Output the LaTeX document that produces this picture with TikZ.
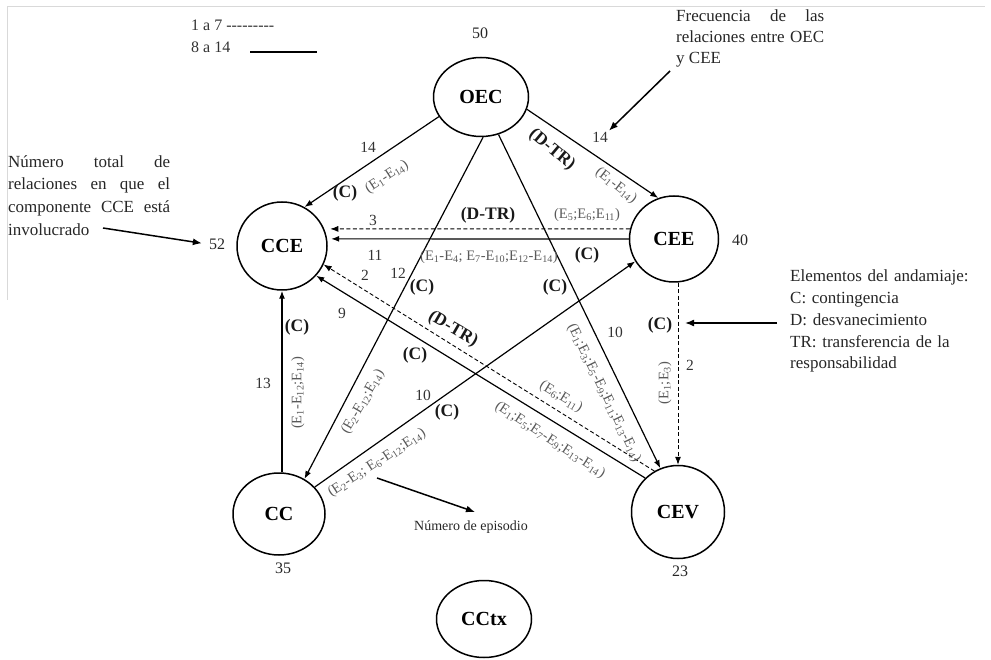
\documentclass[tikz,border=0pt]{standalone}
\usepackage{fontspec}
\setmainfont{Liberation Serif}
\usetikzlibrary{shapes.geometric,arrows.meta}
\begin{document}
\begin{tikzpicture}[x=1pt,y=-1pt,
  comp/.style={ellipse,draw,line width=1.5pt,inner sep=0pt,font=\fontsize{20}{24}\selectfont\bfseries},
  tot/.style={font=\fontsize{16}{19}\selectfont,text=black!85,inner sep=2pt},
  num/.style={font=\fontsize{15.5}{18}\selectfont,text=black!80,inner sep=1pt},
  legtext/.style={font=\fontsize{16}{19}\selectfont,text=black!80,inner sep=1pt},
  elem/.style={font=\fontsize{17.5}{20}\selectfont\bfseries,text=black!90,inner sep=1pt},
  eset/.style={font=\fontsize{14.5}{17}\selectfont,text=black!65,inner sep=1pt},
  note/.style={font=\fontsize{17}{22}\selectfont,text=black!85,inner sep=0pt},
  rel/.style={line width=1.2pt,-{Latex[length=8pt,width=6pt]}},
  weak/.style={rel,line width=0.9pt,dash pattern=on 4pt off 2.5pt},
  pointer/.style={line width=1.5pt,-{Latex[length=9pt,width=7pt]}}
]
\useasboundingbox (0,0) rectangle (991,660);
\draw[black!15,line width=1pt] (7,300) -- (7,7) -- (985,7);

% legend
\node[legtext,anchor=west] (leg1) at (190,25) {1 a 7 -{}-{}-{}-{}-{}-{}-{}-{}-};
\node[legtext,anchor=west] (leg2) at (190,47) {8 a 14};
\coordinate (s1) at (250,52);
\coordinate (s2) at (317,52);
\draw[line width=1.5pt] (s1) -- (s2);

% components
\node[comp,minimum width=95pt,minimum height=79pt] (OEC) at (481,97) {OEC};
\node[comp,minimum width=90pt,minimum height=88pt] (CCE) at (282,246) {CCE};
\node[comp,minimum width=89pt,minimum height=86pt] (CEE) at (674,239) {CEE};
\node[comp,minimum width=92pt,minimum height=82pt] (CC) at (279,514) {CC};
\node[comp,minimum width=93pt,minimum height=93pt] (CEV) at (678,512) {CEV};
\node[comp,minimum width=95pt,minimum height=77pt] (CCtx) at (484,619) {CCtx};

% totals
\node[tot] (t50) at (480,33) {50};
\node[tot] (t52) at (217,244) {52};
\node[tot] (t40) at (740,240) {40};
\node[tot] (t35) at (283,568) {35};
\node[tot] (t23) at (680,571) {23};

% relations
\draw[rel] (OEC.205) -- (CCE.60);
\draw[rel] (OEC.-15) -- (CEE.111);
\draw[weak,shorten >=6pt] (CEE.167) -- (CCE.22);
\draw[rel,shorten >=4pt] (CEE.180) -- (CCE.9);
\draw[rel] (OEC.273) -- (CC.54);
\draw[rel] (OEC.-65) -- (CEV.112);
\draw[weak] (CEV.north |- CEE.south) -- (CEV.north);
\draw[rel] (CCE.south |- CC.north) -- (CCE.south);
\draw[rel] (CC.37) -- (CEE.210);
\draw[rel] (CEV.134) -- (CCE.-41);
\draw[weak] (CEV.120) -- (CCE.-24);

% labels OEC -> CCE
\node[num] (n1) at (368,147) {14};
\node[elem] (c1) at (345,193) {(C)};
\node[eset,rotate=33] (e1) at (387,177) {(E\textsubscript{1}-E\textsubscript{14})};
% OEC -> CEE
\node[elem,rotate=-40] (c2) at (552,150) {(D-TR)};
\node[num] (n2) at (600,137) {14};
\node[eset,rotate=-38] (e2) at (616,186) {(E\textsubscript{1}-E\textsubscript{14})};
% CEE -> CCE dashed
\node[num] (n3) at (373,220) {3};
\node[elem] (c3) at (488,215) {(D-TR)};
\node[eset] (e3) at (587,215) {(E\textsubscript{5};E\textsubscript{6};E\textsubscript{11})};
% CEE -> CCE solid
\node[num] (n4) at (375,255) {11};
\node[eset] (e4) at (489,257) {(E\textsubscript{1}-E\textsubscript{4}; E\textsubscript{7}-E\textsubscript{10};E\textsubscript{12}-E\textsubscript{14})};
\node[elem] (c4) at (587,255) {(C)};
% OEC -> CC
\node[num] (n5) at (398,273) {12};
\node[elem] (c5) at (422,287) {(C)};
\node[eset,rotate=60] (e5) at (363,402) {(E\textsubscript{2}-E\textsubscript{12};E\textsubscript{14})};
% OEC -> CEV
\node[elem] (c6) at (555,287) {(C)};
\node[num] (n6) at (615,332) {10};
\node[eset,rotate=-64] (e6) at (604,393) {(E\textsubscript{1};E\textsubscript{3};E\textsubscript{5}-E\textsubscript{9};E\textsubscript{11};E\textsubscript{13}-E\textsubscript{14})};
% CEE -> CEV
\node[elem] (c7) at (660,325) {(C)};
\node[eset,rotate=90] (e7) at (665,383) {(E\textsubscript{1};E\textsubscript{3})};
\node[num] (n7) at (690,365) {2};
% CC -> CCE
\node[elem] (c8) at (297,327) {(C)};
\node[eset,rotate=90] (e8) at (298,393) {(E\textsubscript{1}-E\textsubscript{12};E\textsubscript{14})};
\node[num] (n8) at (263,383) {13};
% CC -> CEE
\node[num] (n9) at (423,395) {10};
\node[elem] (c9) at (447,412) {(C)};
\node[eset,rotate=33] (e9) at (377,463) {(E\textsubscript{2}-E\textsubscript{3}; E\textsubscript{6}-E\textsubscript{12};E\textsubscript{14})};
% CEV -> CCE solid
\node[num] (n10) at (342,313) {9};
\node[elem] (c10) at (415,355) {(C)};
\node[eset,rotate=-33] (e10) at (550,440) {(E\textsubscript{1};E\textsubscript{5};E\textsubscript{7}-E\textsubscript{9};E\textsubscript{13}-E\textsubscript{14})};
% CEV -> CCE dashed
\node[num] (n11) at (365,275) {2};
\node[elem,rotate=-30] (c11) at (453,329) {(D-TR)};
\node[eset,rotate=-31] (e11) at (561,397) {(E\textsubscript{6};E\textsubscript{11})};

% annotations
\node[note,text width=148pt,align=justify,anchor=north west,font=\fontsize{17}{21}\selectfont] (noteT) at (676,10)
  {\hyphenpenalty=10000 Frecuencia de las\linebreak relaciones entre OEC\linebreak y CEE};
\node[note,text width=162pt,align=justify,anchor=north west,font=\fontsize{17}{22.7}\selectfont] (noteL) at (8,155)
  {\hyphenpenalty=10000 Número total de\linebreak relaciones en que el\linebreak componente CCE está\linebreak involucrado};
\node[note,text width=200pt,align=left,anchor=north west,font=\fontsize{17}{21.7}\selectfont] (noteR) at (790,270)
  {Elementos del andamiaje:\\ C: contingencia\\ D: desvanecimiento\\ TR: transferencia de la\\ responsabilidad};
\node[note,font=\fontsize{14}{17}\selectfont] (epi) at (471,527) {Número de episodio};

\coordinate (pT) at (670,71);
\draw[pointer] (pT) -- (n2.north east);
\coordinate (pL) at (103,228);
\draw[pointer,shorten >=5pt] (pL) -- (t52.west);
\coordinate (pR) at (777,323);
\coordinate (pRe) at (685,323);
\draw[pointer] (pR) -- (pRe);
\coordinate (pB) at (377,478);
\coordinate (pBe) at (475,512);
\draw[pointer] (pB) -- (pBe);
\end{tikzpicture}
\end{document}
